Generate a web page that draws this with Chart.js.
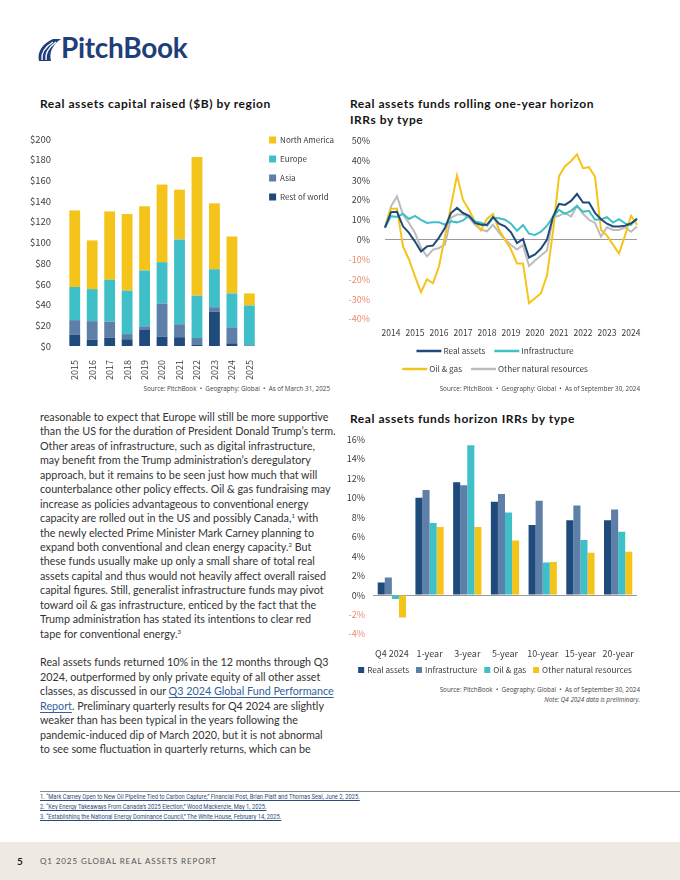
<!DOCTYPE html>
<html>
<head>
<meta charset="utf-8">
<script src="https://cdn.jsdelivr.net/npm/chart.js@4.4.1/dist/chart.umd.min.js"></script>
<style>
  body { margin: 0; width: 680px; height: 880px; position: relative; overflow: hidden; background: #fff; font-family: Lato, sans-serif; }
  .abs { position: absolute; }
  .title { font-weight: 700; font-size: 12px; line-height: 16px; color: #141414; letter-spacing: 0.55px; }
  .source { font-family: "Open Sans", sans-serif; font-size: 6.3px; color: #444; text-align: right; white-space: nowrap; }
  .body { left: 40px; top: 410px; font-size: 10.75px; color: #333; }
  .body div { white-space: nowrap; height: 14.45px; line-height: 14.45px; }
  .body sup { font-size: 6px; line-height: 0; vertical-align: 4px; }
  .link { color: #33619c; text-decoration: underline; text-underline-offset: 2px; }
  .notes { left: 40px; top: 792px; font-family: Roboto, sans-serif; font-size: 6.6px; color: #2d4b78; transform: scaleX(0.88); transform-origin: left top; }
  .notes div { height: 10px; line-height: 10px; white-space: nowrap; }
  .notes span { text-decoration: underline; }
  canvas { position: absolute; }
</style>
</head>
<body>

<svg class="abs" style="left:34px;top:36px" width="30" height="28" viewBox="0 0 30 28">
  <path d="M5 25 C3 16, 8 8, 19 3 L27 3 C18 9, 15 17, 17 25 Z" fill="#1f3f7c"/>
  <path d="M8 24 C7 17, 11 11, 19 6" stroke="#fff" stroke-width="1.4" fill="none"/>
  <path d="M12 24 C11 18, 14 12, 22 6" stroke="#fff" stroke-width="1.4" fill="none"/>
</svg>
<div class="abs" style="left:61px;top:30px;font-family:Lato,sans-serif;font-weight:700;font-size:28px;color:#1f3f7c;letter-spacing:-0.3px">PitchBook</div>

<div class="abs title" style="left:40px;top:96px">Real assets capital raised ($B) by region</div>
<div class="abs title" style="left:350px;top:96px">Real assets funds rolling one-year horizon<br>IRRs by type</div>
<div class="abs title" style="left:350px;top:411px">Real assets funds horizon IRRs by type</div>

<canvas id="c1" width="314" height="255" style="left:30px;top:125px"></canvas>
<canvas id="c2" width="310" height="259" style="left:340px;top:120px"></canvas>
<canvas id="c3" width="310" height="258" style="left:340px;top:426px"></canvas>

<div class="abs source" style="right:350px;top:384px">Source: PitchBook &nbsp;•&nbsp; Geography: Global &nbsp;•&nbsp; As of March 31, 2025</div>
<div class="abs source" style="right:40px;top:384px">Source: PitchBook &nbsp;•&nbsp; Geography: Global &nbsp;•&nbsp; As of September 30, 2024</div>
<div class="abs source" style="right:40px;top:685px">Source: PitchBook &nbsp;•&nbsp; Geography: Global &nbsp;•&nbsp; As of September 30, 2024</div>
<div class="abs source" style="right:40px;top:695px;font-style:italic">Note: Q4 2024 data is preliminary.</div>

<div class="abs body">
  <div>reasonable to expect that Europe will still be more supportive</div>
  <div>than the US for the duration of President Donald Trump’s term.</div>
  <div>Other areas of infrastructure, such as digital infrastructure,</div>
  <div>may benefit from the Trump administration’s deregulatory</div>
  <div>approach, but it remains to be seen just how much that will</div>
  <div>counterbalance other policy effects. Oil &amp; gas fundraising may</div>
  <div>increase as policies advantageous to conventional energy</div>
  <div>capacity are rolled out in the US and possibly Canada,<sup>1</sup> with</div>
  <div>the newly elected Prime Minister Mark Carney planning to</div>
  <div>expand both conventional and clean energy capacity.<sup>2</sup> But</div>
  <div>these funds usually make up only a small share of total real</div>
  <div>assets capital and thus would not heavily affect overall raised</div>
  <div>capital figures. Still, generalist infrastructure funds may pivot</div>
  <div>toward oil &amp; gas infrastructure, enticed by the fact that the</div>
  <div>Trump administration has stated its intentions to clear red</div>
  <div>tape for conventional energy.<sup>3</sup></div>
  <div></div>
  <div>Real assets funds returned 10% in the 12 months through Q3</div>
  <div>2024, outperformed by only private equity of all other asset</div>
  <div>classes, as discussed in our <span class="link">Q3 2024 Global Fund Performance</span></div>
  <div><span class="link">Report</span>. Preliminary quarterly results for Q4 2024 are slightly</div>
  <div>weaker than has been typical in the years following the</div>
  <div>pandemic-induced dip of March 2020, but it is not abnormal</div>
  <div>to see some fluctuation in quarterly returns, which can be</div>
</div>

<div class="abs" style="left:40px;top:791px;width:640px;height:1px;background:#8a8a8a"></div>
<div class="abs notes">
  <div><span>1. “Mark Carney Open to New Oil Pipeline Tied to Carbon Capture,” Financial Post, Brian Platt and Thomas Seal, June 2, 2025.</span></div>
  <div><span>2. “Key Energy Takeaways From Canada’s 2025 Election,” Wood Mackenzie, May 1, 2025.</span></div>
  <div><span>3. “Establishing the National Energy Dominance Council,” The White House, February 14, 2025.</span></div>
</div>

<div class="abs" style="left:0;top:842px;width:680px;height:38px;background:#eeeae2"></div>
<div class="abs" style="left:17px;top:855px;font-weight:700;font-size:10px;color:#222">5</div>
<div class="abs" style="left:40px;top:856px;font-size:8px;letter-spacing:0.9px;color:#555">Q1 2025 GLOBAL REAL ASSETS REPORT</div>

<script>
// colours
const NAVY = '#1f4a7c';
const SLATE = '#5d7fa8';
const TEAL = '#3fc0c8';
const YELLOW = '#f5c41a';
const GREY = '#bcbcbc';
const NEG = '#ec8a6c';
const TICK = '#3d3d3d';
const NARROW = "'Noto Sans CJK SC', sans-serif";

// chart 1: capital raised by region ($B)
const years = ['2015', '2016', '2017', '2018', '2019', '2020', '2021', '2022', '2023', '2024', '2025'];
const restOfWorld = [11, 6, 8, 6.5, 16, 9, 8.5, 1, 33, 2.6, 0.3];
const asia = [14, 18, 15.5, 5, 3, 32, 12.5, 6.7, 4.5, 15.4, 0.5];
const europe = [32, 31, 40.5, 42, 54, 40, 82, 41, 36.7, 32.8, 38.4];
const northAmerica = [74, 47, 66, 74, 62, 75, 48, 134, 63.6, 55, 11.6];

// chart 2: rolling one-year horizon IRRs (%), quarterly from Q1 2014
const irrYears = ['2014', '2015', '2016', '2017', '2018', '2019', '2020', '2021', '2022', '2023', '2024'];
const realAssets = [6, 13.8, 14, 6.7, 3.4, -1, -6, -3.4, -3, 1, 6, 13.4, 16, 13.4, 12, 8.4, 7.5, 7.5, 11.4, 8, 6.7, 3.7, -1.7, 0.3, -9, -7.5, -4.5, 0, 11.5, 18, 17.5, 19.5, 23, 18.7, 18.7, 13.5, 10.3, 8, 6.6, 6.6, 7, 8.2, 10.3];
const infrastructure = [6, 11.8, 11.4, 13, 10.4, 12, 10, 8.4, 8.7, 8.7, 7.5, 9.2, 8.7, 9.7, 12, 9.2, 8.5, 7, 11, 10.8, 10, 8, 4.5, 7.4, 3, 2.4, 4, 7, 11.5, 15, 13, 14.5, 17, 14, 14.5, 10, 10.3, 11.3, 8.6, 10.3, 8.2, 7.4, 10.8];
const oilGas = [6.4, 15.6, 15.6, -3.4, -10, -18.5, -26.5, -20, -22, -13.4, 1.7, 17, 32.4, 20, 15, 9, 4.7, 10.4, 13, 5, 0, -5, -12, -12, -32, -29.5, -27, -18, 4, 32, 37, 39.5, 43, 36, 36.5, 31.7, 5, 2, -2.5, -7, 2, 12, 7.5];
const otherNatural = [6, 16.8, 21.8, 12.6, 8.4, 3.4, -4.2, -8.4, -5, -4.2, -2.5, 11, 12.6, 12.6, 11, 7.5, 5, 4.2, 7.5, 3.5, 0, -2.7, -5, -2.7, -13.3, -10.5, -8, -5.5, 11.3, 12, 13.5, 11.6, 17, 13, 10, 8.4, 1.5, 6.2, 4.9, 4.9, 6.2, 4, 6.6];

// chart 3: horizon IRRs (%)
const horizons = ['Q4 2024', '1-year', '3-year', '5-year', '10-year', '15-year', '20-year'];
const hRealAssets = [1.3, 10.0, 11.6, 9.6, 7.2, 7.7, 7.7];
const hInfrastructure = [1.8, 10.8, 11.3, 10.4, 9.7, 9.2, 8.8];
const hOilGas = [-0.4, 7.4, 15.4, 8.5, 3.35, 5.65, 6.5];
const hOtherNatural = [-2.3, 7.0, 7.0, 5.6, 3.4, 4.35, 4.45];

const quarters = [];
irrYears.forEach(y => ['Q1', 'Q2', 'Q3', 'Q4'].forEach(q => quarters.push(q + ' ' + y)));
quarters.length = realAssets.length;

const tickFont = { family: NARROW, size: 9 };
const zeroGrid = {
    color: c => (c.tick && c.tick.value === 0 ? '#9a9a9a' : 'rgba(0,0,0,0)'),
    drawTicks: false,
    lineWidth: 1
};
const negColour = c => (c.tick && c.tick.value < 0 ? NEG : TICK);

// legend drawn in centred rows below the plot (line or square symbols)
const rowLegend = {
    id: 'rowLegend',
    afterDraw(chart, args, opts) {
        const ctx = chart.ctx;
        ctx.save();
        ctx.font = opts.font;
        ctx.textBaseline = 'middle';
        opts.rows.forEach((row, r) => {
            const items = row.map(i => chart.data.datasets[i]);
            const widths = items.map(d => opts.symbolWidth + opts.gap + ctx.measureText(d.label).width);
            const total = widths.reduce((a, b) => a + b, 0) + opts.spacing * (items.length - 1);
            let x = opts.centerX - total / 2;
            const y = chart.chartArea.bottom + opts.top + r * opts.rowHeight;
            items.forEach((d, k) => {
                if (opts.symbol === 'line') {
                    ctx.strokeStyle = d.borderColor;
                    ctx.lineWidth = 2.5;
                    ctx.beginPath();
                    ctx.moveTo(x, y);
                    ctx.lineTo(x + opts.symbolWidth, y);
                    ctx.stroke();
                } else {
                    ctx.fillStyle = d.backgroundColor;
                    ctx.fillRect(x, y - opts.symbolWidth / 2, opts.symbolWidth, opts.symbolWidth);
                }
                ctx.fillStyle = opts.color;
                ctx.fillText(d.label, x + opts.symbolWidth + opts.gap, y);
                x += widths[k] + opts.spacing;
            });
        });
        ctx.restore();
    }
};

new Chart(document.getElementById('c1'), {
    type: 'bar',
    data: {
        labels: years,
        datasets: [
            { label: 'Rest of world', data: restOfWorld, backgroundColor: NAVY },
            { label: 'Asia', data: asia, backgroundColor: SLATE },
            { label: 'Europe', data: europe, backgroundColor: TEAL },
            { label: 'North America', data: northAmerica, backgroundColor: YELLOW }
        ]
    },
    options: {
        responsive: false,
        animation: false,
        layout: { padding: 0 },
        datasets: { bar: { barPercentage: 0.62, categoryPercentage: 1 } },
        plugins: {
            title: { display: true, text: '', fullSize: false, font: { size: 10 }, padding: { top: 0, bottom: 2 } },
            legend: {
                position: 'right',
                align: 'start',
                reverse: true,
                maxWidth: 120,
                labels: { boxWidth: 7, boxHeight: 7, padding: 11, color: TICK, font: { family: NARROW, size: 8 } }
            },
            tooltip: { enabled: false }
        },
        scales: {
            x: {
                stacked: true,
                grid: { display: false },
                border: { display: false },
                ticks: { minRotation: 90, maxRotation: 90, padding: 6, color: TICK, font: tickFont },
                afterFit(s) { s.height = 34; }
            },
            y: {
                stacked: true,
                min: 0,
                max: 200,
                grid: { display: false },
                border: { display: false },
                ticks: { stepSize: 20, padding: 7, color: TICK, font: { family: NARROW, size: 9.5 }, callback: v => '$' + v },
                afterFit(s) { s.width = 36; }
            }
        }
    }
});

new Chart(document.getElementById('c2'), {
    type: 'line',
    data: {
        labels: quarters,
        datasets: [
            { label: 'Real assets', data: realAssets, borderColor: NAVY },
            { label: 'Infrastructure', data: infrastructure, borderColor: TEAL },
            { label: 'Oil & gas', data: oilGas, borderColor: YELLOW },
            { label: 'Other natural resources', data: otherNatural, borderColor: GREY }
        ]
    },
    options: {
        responsive: false,
        animation: false,
        layout: { padding: { top: 0, right: 13, bottom: 30, left: 0 } },
        elements: { point: { radius: 0 }, line: { borderWidth: 2, tension: 0 } },
        plugins: {
            legend: { display: false },
            tooltip: { enabled: false },
            rowLegend: {
                rows: [[0, 1], [2, 3]],
                symbol: 'line',
                symbolWidth: 25,
                centerX: 155,
                top: 32,
                rowHeight: 18,
                gap: 2,
                spacing: 9,
                color: TICK,
                font: "8.2px " + NARROW
            }
        },
        scales: {
            x: {
                grid: { display: false },
                border: { display: false },
                ticks: {
                    autoSkip: false,
                    maxRotation: 0,
                    padding: 1,
                    color: TICK,
                    font: { family: NARROW, size: 8.5 },
                    callback: (v, i) => (quarters[i].startsWith('Q2') ? quarters[i].slice(3) : '')
                },
                afterFit(s) { s.height = 30; }
            },
            y: {
                min: -40,
                max: 50,
                grid: zeroGrid,
                border: { display: false },
                ticks: { stepSize: 10, padding: 15, color: negColour, font: tickFont, callback: v => v + '%' },
                afterFit(s) { s.width = 45; }
            }
        }
    },
    plugins: [rowLegend]
});

new Chart(document.getElementById('c3'), {
    type: 'bar',
    data: {
        labels: horizons,
        datasets: [
            { label: 'Real assets', data: hRealAssets, backgroundColor: NAVY },
            { label: 'Infrastructure', data: hInfrastructure, backgroundColor: SLATE },
            { label: 'Oil & gas', data: hOilGas, backgroundColor: TEAL },
            { label: 'Other natural resources', data: hOtherNatural, backgroundColor: YELLOW }
        ]
    },
    options: {
        responsive: false,
        animation: false,
        layout: { padding: { top: 0, right: 13, bottom: 20, left: 0 } },
        datasets: { bar: { barPercentage: 1, categoryPercentage: 0.75 } },
        plugins: {
            legend: { display: false },
            tooltip: { enabled: false },
            rowLegend: {
                rows: [[0, 1, 2, 3]],
                symbol: 'box',
                symbolWidth: 6,
                centerX: 155,
                top: 36,
                rowHeight: 18,
                gap: 3,
                spacing: 7,
                color: TICK,
                font: "8.2px " + NARROW
            }
        },
        scales: {
            x: {
                grid: { display: false },
                border: { display: false },
                ticks: { autoSkip: false, maxRotation: 0, padding: 6, color: TICK, font: tickFont },
                afterFit(s) { s.height = 30; }
            },
            y: {
                min: -4,
                max: 16,
                grid: zeroGrid,
                border: { display: false },
                ticks: { stepSize: 2, padding: 8, color: negColour, font: tickFont, callback: v => v + '%' },
                afterFit(s) { s.width = 33; }
            }
        }
    },
    plugins: [rowLegend]
});
</script>
</body>
</html>
